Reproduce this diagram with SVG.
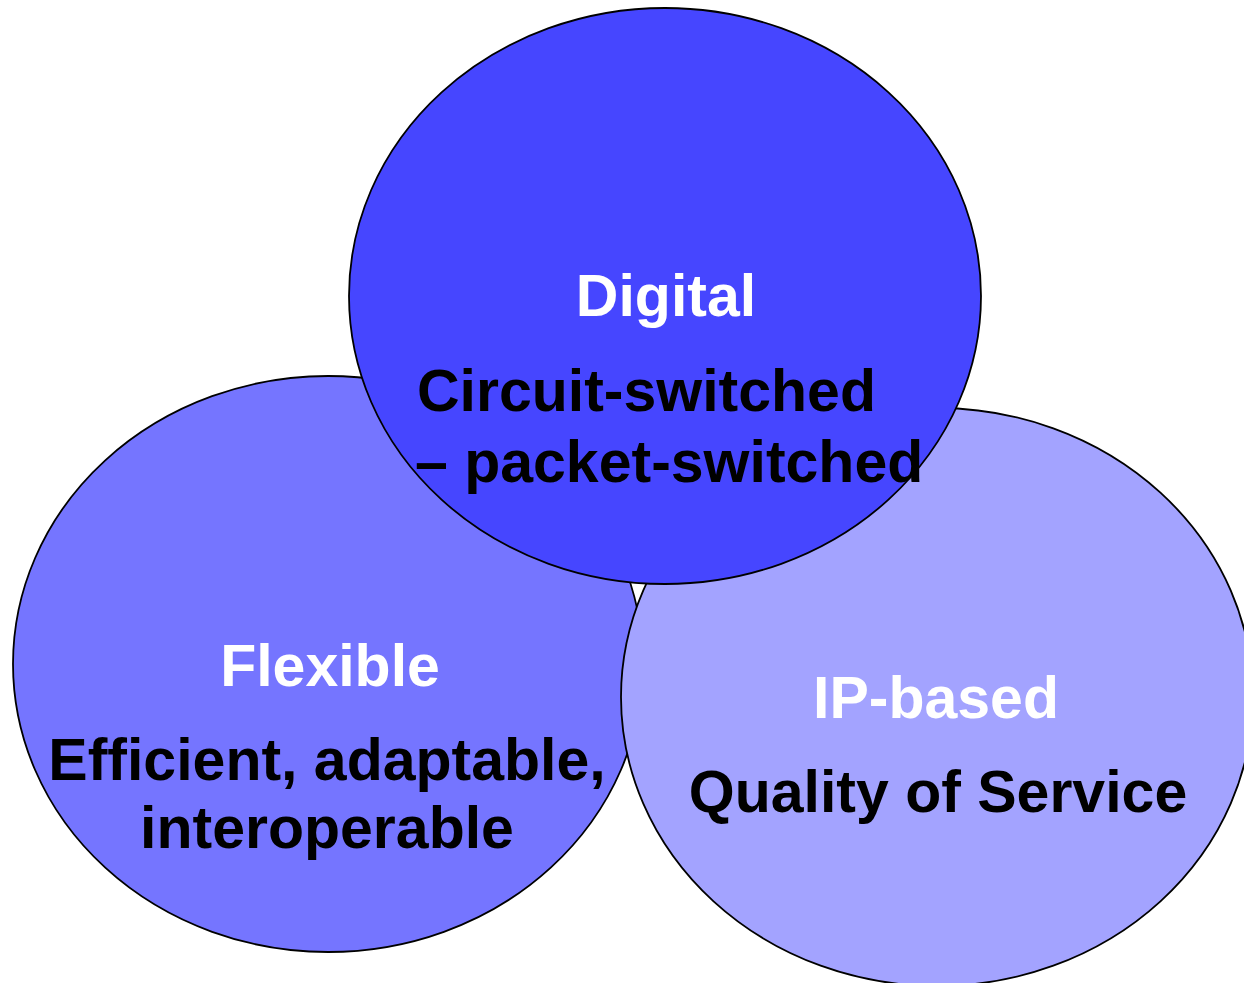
<svg xmlns="http://www.w3.org/2000/svg" width="1244" height="983" viewBox="0 0 1244 983">
<style>
.c{stroke:#000;stroke-width:1.8}
.t{font-family:"Liberation Sans",Arial,sans-serif;font-weight:bold;font-size:59px}
.w{fill:#fff}
.k{fill:#000}
</style>
<rect width="1244" height="983" fill="#fff"/>
<g id="flexible">
<ellipse class="c" cx="328" cy="664" rx="315" ry="288" fill="#7575FF"/>
<text class="t w" x="330" y="686" text-anchor="middle">Flexible</text>
<text class="t k" x="327" y="780" text-anchor="middle">Efficient, adaptable,</text>
<text class="t k" x="327" y="848" text-anchor="middle">interoperable</text>
</g>
<g id="ip-based">
<ellipse class="c" cx="937" cy="697" rx="316" ry="289" fill="#A3A3FF"/>
<text class="t w" x="936" y="718" text-anchor="middle">IP-based</text>
<text class="t k" x="938" y="812" text-anchor="middle">Quality of Service</text>
</g>
<g id="digital">
<ellipse class="c" cx="665" cy="296" rx="316" ry="288" fill="#4646FF"/>
<text class="t w" x="666" y="316" text-anchor="middle">Digital</text>
<text class="t k" x="417" y="411">Circuit-switched</text>
<text class="t k" x="415" y="482">– packet-switched</text>
</g>
<g id="connectors"></g>
</svg>
